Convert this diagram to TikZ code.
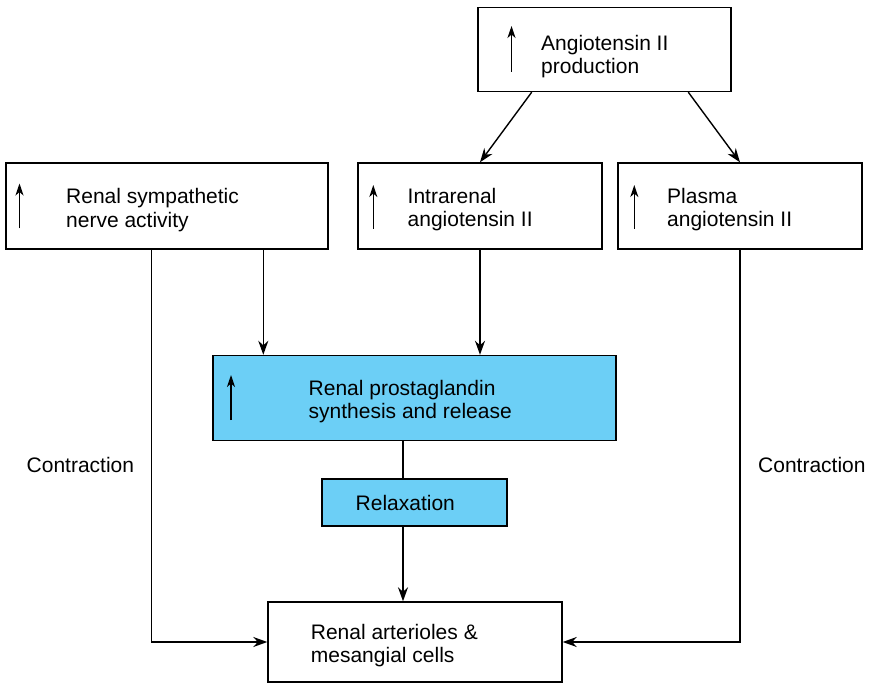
\documentclass[tikz,border=0pt]{standalone}
\usepackage{fontspec}
\setmainfont{Liberation Sans}
\usetikzlibrary{arrows.meta}
\definecolor{pgblue}{RGB}{108,207,246}
\begin{document}
\begin{tikzpicture}[x=1pt,y=-1pt,
  box/.style={draw, line width=1.4pt, inner sep=0pt},
  lbl/.style={font=\fontsize{21}{23.5}\selectfont, align=left, anchor=base west, inner sep=0pt},
  conn/.style={line width=1.4pt, -{Stealth[length=14pt,width=10pt,inset=4.5pt]}},
  up/.style={line width=1.4pt, -{Stealth[length=12pt,width=8pt,inset=3.5pt]}},
  plain/.style={line width=1.4pt}]
\useasboundingbox (0,0) rectangle (870,684);

% boxes
\node[box, minimum width=253pt, minimum height=84pt] (ang) at (604.5,49.5) {};
\node[box, minimum width=322pt, minimum height=86pt] (sym) at (167,206) {};
\node[box, minimum width=244pt, minimum height=86pt] (intra) at (480,206) {};
\node[box, minimum width=244pt, minimum height=86pt] (plasma) at (740,206) {};
\node[box, fill=pgblue, minimum width=403pt, minimum height=85pt] (prost) at (414.5,398) {};
\node[box, fill=pgblue, minimum width=185pt, minimum height=47pt] (relax) at (414.5,502.3) {};
\node[box, minimum width=294pt, minimum height=80pt] (bot) at (415,642) {};

% texts (anchor = baseline of last line)
\node[lbl] (tang) at (541,74) {Angiotensin II\\production};
\node[lbl] (tsym) at (66,227.5) {Renal sympathetic\\nerve activity};
\node[lbl] (tintra) at (407.5,227) {Intrarenal\\angiotensin II};
\node[lbl] (tplasma) at (667,227) {Plasma\\angiotensin II};
\node[lbl] (tprost) at (308.5,418.5) {Renal prostaglandin\\synthesis and release};
\node[lbl] (trelax) at (355.5,510) {Relaxation};
\node[lbl] (tbot) at (310.7,662.8) {Renal arterioles \&\\mesangial cells};
\node[lbl] (cl) at (26.5,472.3) {Contraction};
\node[lbl] (cr) at (758,472.3) {Contraction};

% increase arrows
\draw[up] (511.5,72) -- (511.5,26);
\draw[up] (19.5,228.5) -- (19.5,183.5);
\draw[up] (373.3,229) -- (373.3,185);
\draw[up] (634.3,229) -- (634.3,185);
\draw[up] (231,420) -- (231,375);

% connectors
\draw[conn] ([xshift=-72.8pt]ang.south) -- (intra.north);
\draw[conn] ([xshift=83.8pt]ang.south) -- (plasma.north);
\coordinate (s1) at ([xshift=96.3pt]sym.south);
\draw[conn] (s1) -- (s1 |- prost.north);
\draw[conn] (intra.south) -- (intra.south |- prost.north);
\coordinate (s2) at ([xshift=-15.3pt]sym.south);
\draw[conn] (s2) |- (bot.west);
\draw[conn] (plasma.south) |- (bot.east);
\coordinate (p1) at ([xshift=-11.5pt]prost.south);
\draw[plain] (p1) -- (p1 |- relax.north);
\draw[conn] (p1 |- relax.south) -- (p1 |- bot.north);
\end{tikzpicture}
\end{document}
